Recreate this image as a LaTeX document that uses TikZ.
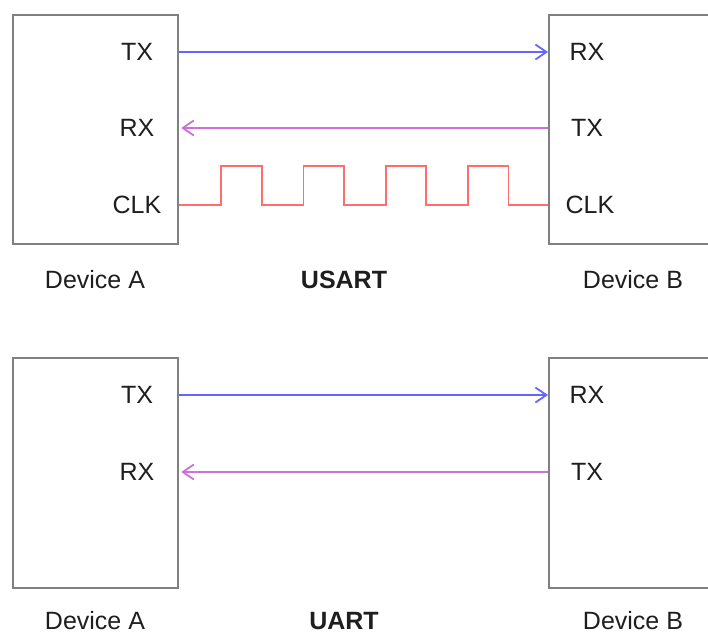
\documentclass[tikz,border=0pt]{standalone}
\usepackage{fontspec}
\setmainfont{Liberation Sans}
\usetikzlibrary{arrows.meta}
\definecolor{boxgray}{HTML}{808080}
\definecolor{txblue}{HTML}{6464FF}
\definecolor{rxpurple}{HTML}{CC70DA}
\definecolor{clkred}{HTML}{FF6E6E}
\definecolor{ink}{HTML}{1E1E1E}
\tikzset{
  device/.style={draw=boxgray, line width=2.2pt, minimum width=165pt, inner sep=0pt, anchor=north west},
  pin/.style={font=\fontsize{25}{30}\selectfont, text=ink, inner sep=0pt},
  caption/.style={font=\fontsize{25}{30}\selectfont, text=ink, inner sep=0pt},
  title/.style={font=\fontsize{25}{30}\selectfont\bfseries, text=ink, inner sep=0pt},
  wire/.style={line width=1.8pt},
  tip/.style={-{Straight Barb[length=11pt, width=15pt, line width=1.8pt]}}
}
\begin{document}
\begin{tikzpicture}[x=1pt, y=-1pt]
  \useasboundingbox (0,0) rectangle (708,635);
  \begin{scope}
    \clip (0,0) rectangle (708,635);
    % USART: two devices with TX, RX and a clock line
    \node[device, minimum height=229pt] (A1) at (12,14) {};
    \node[device, minimum height=229pt, minimum width=180pt] (B1) at (548,14) {};
    % UART: two devices with TX and RX only
    \node[device, minimum height=230pt] (A2) at (12,357) {};
    \node[device, minimum height=230pt, minimum width=180pt] (B2) at (548,357) {};
  \end{scope}

  % pin labels, USART
  \node[pin] (txA1) at (137,52) {TX};
  \node[pin] (rxA1) at (137,128) {RX};
  \node[pin] (clkA1) at (137,205) {CLK};
  \node[pin] (rxB1) at (587,52) {RX};
  \node[pin] (txB1) at (587,128) {TX};
  \node[pin] (clkB1) at (590,205) {CLK};

  % pin labels, UART
  \node[pin] (txA2) at (137,395) {TX};
  \node[pin] (rxA2) at (137,472) {RX};
  \node[pin] (rxB2) at (587,395) {RX};
  \node[pin] (txB2) at (587,472) {TX};

  % captions
  \node[caption] (capA1) at (95,280) {Device A};
  \node[title] (usart) at (344,280) {USART};
  \node[caption] (capB1) at (633,280) {Device B};
  \node[caption] (capA2) at (95,621) {Device A};
  \node[title] (uart) at (344,621) {UART};
  \node[caption] (capB2) at (633,621) {Device B};

  % USART wires
  \draw[wire, txblue, tip] (A1.east |- txA1) -- (B1.west |- rxB1);
  \draw[wire, rxpurple, tip] (B1.west |- txB1) -- ([xshift=2pt]A1.east |- rxA1);
  \draw[wire, clkred, line join=miter] (A1.east |- clkA1)
    -- ++(42,0)
    \foreach \k in {1,...,3} { -- ++(0,-39) -- ++(40.5,0) -- ++(0,39) -- ++(41.75,0) }
    -- ++(0,-39) -- ++(40.5,0) -- ++(0,39)
    -- (B1.west |- clkB1);

  % UART wires
  \draw[wire, txblue, tip] (A2.east |- txA2) -- (B2.west |- rxB2);
  \draw[wire, rxpurple, tip] (B2.west |- txB2) -- ([xshift=2pt]A2.east |- rxA2);
\end{tikzpicture}
\end{document}
